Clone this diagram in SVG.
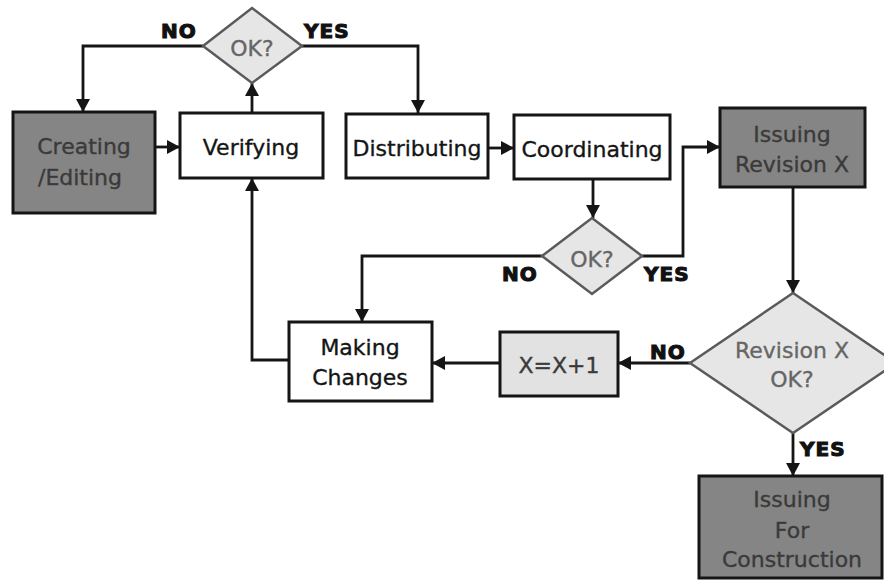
<svg xmlns="http://www.w3.org/2000/svg" width="884" height="581" viewBox="0 0 884 581">
  <style>
    .box { stroke: #151515; stroke-width: 3; }
    .plain { fill: #ffffff; }
    .dark { fill: #858585; }
    .light { fill: #e2e2e2; }
    .dec { fill: #e6e6e6; stroke: #5a5a5a; stroke-width: 2.5; }
    .t { font-family: "DejaVu Sans", Verdana, sans-serif; font-size: 22px; text-anchor: middle; stroke-width: 0.35; }
    .tb { fill: #151515; stroke: #151515; }
    .tg { fill: #3a3a3a; stroke: #3a3a3a; }
    .td { fill: #666666; stroke: #666666; }
    .lbl { font-family: "DejaVu Sans", Verdana, sans-serif; font-size: 20px; font-weight: bold; letter-spacing: 1px; fill: #111; stroke: #111; stroke-width: 1.1; }
    .wire { fill: none; stroke: #151515; stroke-width: 2.8; marker-end: url(#arrow); }
  </style>
  <defs>
    <marker id="arrow" markerUnits="userSpaceOnUse" markerWidth="15" markerHeight="15" refX="13" refY="7" orient="auto">
      <path d="M0,0 L13,7 L0,14 z" fill="#151515"/>
    </marker>
  </defs>
  <rect width="884" height="581" fill="#ffffff"/>

  <!-- connectors -->
  <g id="connectors">
    <polyline class="wire" points="203,46 83,46 83,112"/>
    <polyline class="wire" points="302,46 418,46 418,113"/>
    <polyline class="wire" points="252,113 252,83"/>
    <polyline class="wire" points="155,147 180,147"/>
    <polyline class="wire" points="488,148 514,148"/>
    <polyline class="wire" points="593,179 593,218"/>
    <polyline class="wire" points="642,256 683,256 683,147 720,147"/>
    <polyline class="wire" points="542,256 362,256 362,322"/>
    <polyline class="wire" points="289,360 252,360 252,178"/>
    <polyline class="wire" points="690,363 618,363"/>
    <polyline class="wire" points="500,363 432,363"/>
    <polyline class="wire" points="793,187 793,293"/>
    <polyline class="wire" points="793,433 793,476"/>
  </g>

  <!-- branch labels -->
  <g id="labels">
    <text class="lbl" x="161" y="38">NO</text>
    <text class="lbl" x="304" y="38">YES</text>
    <text class="lbl" x="502" y="281">NO</text>
    <text class="lbl" x="644" y="281">YES</text>
    <text class="lbl" x="650" y="359">NO</text>
    <text class="lbl" x="800" y="456">YES</text>
  </g>

  <g id="creating">
    <rect class="box dark" x="13" y="112" width="142" height="101"/>
    <text class="t tg" x="84" y="154">Creating</text>
    <text class="t tg" x="80" y="185">/Editing</text>
  </g>

  <g id="verifying">
    <rect class="box plain" x="180" y="113" width="143" height="65"/>
    <text class="t tb" x="251" y="155">Verifying</text>
  </g>

  <g id="ok1">
    <polygon class="dec" points="252,8 302,46 252,83 203,46"/>
    <text class="t td" x="252" y="56">OK?</text>
  </g>

  <g id="distributing">
    <rect class="box plain" x="346" y="114" width="142" height="64"/>
    <text class="t tb" x="417" y="156">Distributing</text>
  </g>

  <g id="coordinating">
    <rect class="box plain" x="514" y="115" width="156" height="64"/>
    <text class="t tb" x="592" y="157">Coordinating</text>
  </g>

  <g id="ok2">
    <polygon class="dec" points="592,218 642,256 592,294 542,256"/>
    <text class="t td" x="592" y="267">OK?</text>
  </g>

  <g id="issuing-revision">
    <rect class="box dark" x="720" y="108" width="145" height="79"/>
    <text class="t tg" x="792" y="142">Issuing</text>
    <text class="t tg" x="792" y="172">Revision X</text>
  </g>

  <g id="making-changes">
    <rect class="box plain" x="289" y="322" width="143" height="79"/>
    <text class="t tb" x="360" y="355">Making</text>
    <text class="t tb" x="360" y="385">Changes</text>
  </g>

  <g id="increment">
    <rect class="box light" x="500" y="332" width="118" height="64"/>
    <text class="t tg" x="559" y="373">X=X+1</text>
  </g>

  <g id="revision-ok">
    <polygon class="dec" points="793,293 896,363 793,433 690,363"/>
    <text class="t td" x="792" y="358">Revision X</text>
    <text class="t td" x="792" y="387">OK?</text>
  </g>

  <g id="issuing-construction">
    <rect class="box dark" x="699" y="476" width="183" height="102"/>
    <text class="t tg" x="792" y="507">Issuing</text>
    <text class="t tg" x="792" y="538">For</text>
    <text class="t tg" x="792" y="567">Construction</text>
  </g>
</svg>
